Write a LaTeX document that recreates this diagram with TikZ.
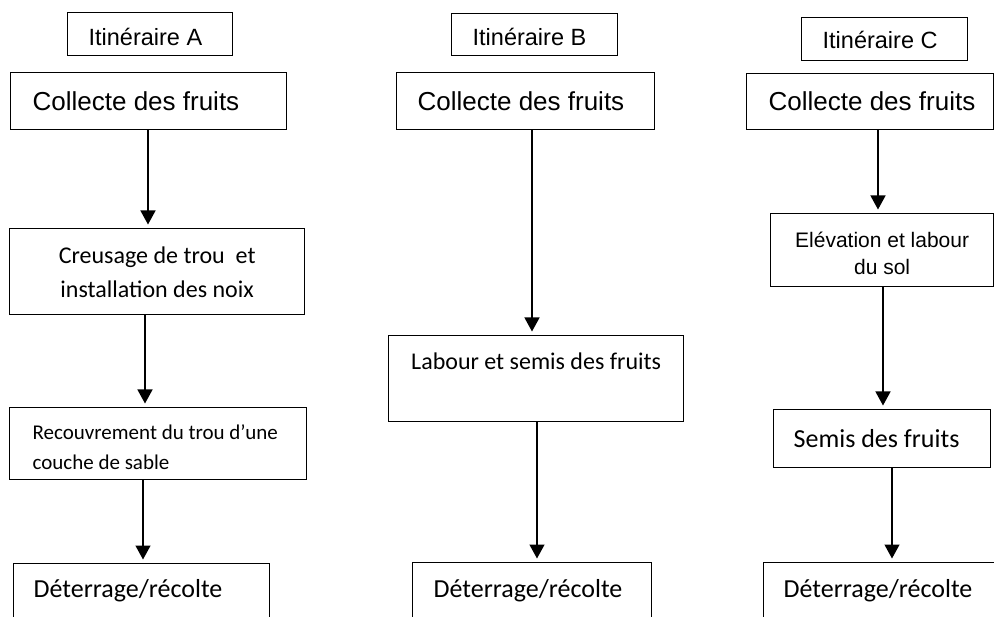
\documentclass[tikz,border=0pt]{standalone}
\usepackage{fontspec}
\newfontfamily\arialf{Liberation Sans}
\newfontfamily\calf{Carlito}
\usetikzlibrary{arrows.meta}
\begin{document}
\begin{tikzpicture}[x=1pt,y=-1pt,
  bx/.style={draw, line width=1.3pt, rectangle, inner sep=0pt, anchor=north west},
  hdr/.style={font=\arialf\fontsize{23.5}{28}\selectfont, align=flush left, text height=22pt, text depth=0pt},
  col/.style={font=\arialf\fontsize{26}{31}\selectfont, align=flush left, text height=18pt, text depth=0pt},
  det/.style={font=\calf\fontsize{26}{31}\selectfont, align=flush left, text height=18pt, text depth=37pt},
  arr/.style={-{Triangle[width=15pt,length=14pt]}, line width=1.3pt, shorten >=3.5pt}]
\useasboundingbox (0,0) rectangle (994,617);
\clip (0,0) rectangle (994,617);
\fill[white] (0,0) rectangle (994,617);

% headers
\node[bx, hdr, minimum width=165pt, minimum height=43pt, text width=123pt, inner xsep=21pt] (hA) at (67,12) {\mbox{Itinéraire A}};
\node[bx, hdr, minimum width=166pt, minimum height=42pt, text width=124pt, inner xsep=21pt] (hB) at (451,13) {\mbox{Itinéraire B}};
\node[bx, hdr, minimum width=166pt, minimum height=43pt, text width=124pt, inner xsep=21pt, text height=19pt] (hC) at (801,17) {\mbox{Itinéraire C}};

% collecte
\node[bx, col, minimum width=276pt, minimum height=57pt, text width=232pt, inner xsep=22pt] (cA) at (10,72) {\mbox{Collecte des fruits}};
\node[bx, col, minimum width=258pt, minimum height=57pt, text width=216pt, inner xsep=21pt] (cB) at (396,72) {\mbox{Collecte des fruits}};
\node[bx, col, minimum width=247pt, minimum height=56pt, text width=203pt, inner xsep=22pt] (cC) at (746,73) {\mbox{Collecte des fruits}};

% column A
\node[bx, font=\calf\fontsize{24}{34}\selectfont, align=flush center, minimum width=295pt, minimum height=86pt, text width=275pt, inner xsep=10pt, text height=20pt, text depth=36pt] (cr) at (9,228) {Creusage de trou~ et\\installation des noix};
\node[bx, font=\calf\fontsize{21}{30}\selectfont, align=flush left, minimum width=297pt, minimum height=72pt, text width=251pt, inner xsep=23pt, text height=18pt, text depth=26pt] (rec) at (9,407) {\mbox{Recouvrement du trou d’une}\\couche de sable};
\node[bx, det, minimum width=256pt, minimum height=87pt, text width=216pt, inner xsep=20pt] (dA) at (13,563) {\mbox{Déterrage/récolte}};

% column B
\node[bx, font=\calf\fontsize{24}{34}\selectfont, align=flush center, minimum width=295pt, minimum height=86pt, text width=275pt, inner xsep=10pt, text height=18pt, text depth=36pt] (lab) at (388,335) {Labour et semis des fruits};
\node[bx, det, minimum width=239pt, minimum height=88pt, text width=197pt, inner xsep=21pt] (dB) at (412,562) {\mbox{Déterrage/récolte}};

% column C
\node[bx, font=\arialf\fontsize{21}{26.5}\selectfont, align=flush center, minimum width=223pt, minimum height=73pt, text width=203pt, inner xsep=10pt, text height=16pt, text depth=21pt] (el) at (770,213) {Elévation et labour\\du sol};
\node[bx, font=\calf\fontsize{26}{31}\selectfont, align=flush left, minimum width=217pt, minimum height=58pt, text width=177pt, inner xsep=20pt, text height=18pt, text depth=0pt] (sem) at (773,409) {\mbox{Semis des fruits}};
\node[bx, det, minimum width=247pt, minimum height=88pt, text width=207pt, inner xsep=20pt] (dC) at (763,562) {\mbox{Déterrage/récolte}};

% arrow x positions
\coordinate (xa1) at (148,0);
\coordinate (xa2) at (145,0);
\coordinate (xa3) at (143,0);
\coordinate (xb1) at (532,0);
\coordinate (xb2) at (537,0);
\coordinate (xc1) at (878,0);
\coordinate (xc2) at (883,0);
\coordinate (xc3) at (892,0);

\draw[arr] (cA.south -| xa1) -- (cr.north -| xa1);
\draw[arr] (cr.south -| xa2) -- (rec.north -| xa2);
\draw[arr] (rec.south -| xa3) -- (dA.north -| xa3);
\draw[arr] (cB.south -| xb1) -- (lab.north -| xb1);
\draw[arr] (lab.south -| xb2) -- (dB.north -| xb2);
\draw[arr] (cC.south -| xc1) -- (el.north -| xc1);
\draw[arr] (el.south -| xc2) -- (sem.north -| xc2);
\draw[arr] (sem.south -| xc3) -- (dC.north -| xc3);
\end{tikzpicture}
\end{document}
